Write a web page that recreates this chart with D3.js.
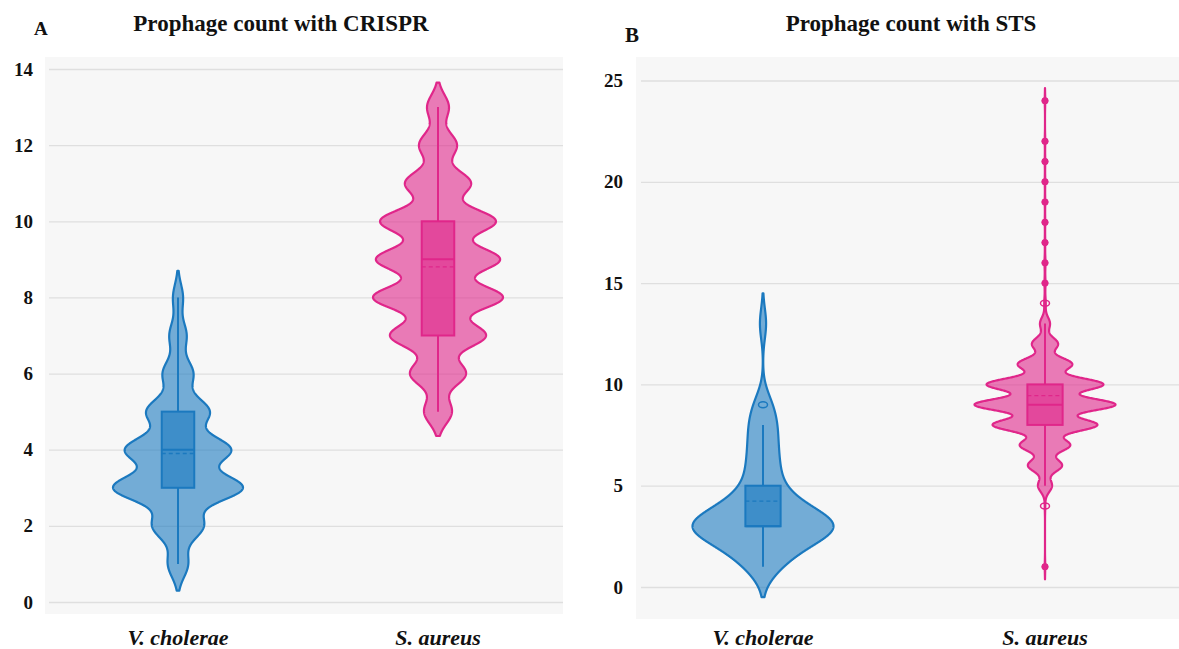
<!DOCTYPE html>
<html>
<head>
<meta charset="utf-8">
<script src="https://cdn.jsdelivr.net/npm/d3@7"></script>
<style>
  html, body { margin: 0; padding: 0; background: #ffffff; }
  svg text { font-family: "Liberation Serif", "Times New Roman", serif; font-weight: bold; fill: #111; }
</style>
</head>
<body>
<svg id="chart" width="1179" height="649"></svg>
<script>
// ---------- data ----------
const categories = ["V. cholerae", "S. aureus"];
const seriesColors = ["#1b79bf", "#e0268a"];

// Panel A: prophage count per genome, genomes carrying CRISPR
const crisprTicks = [0, 2, 4, 6, 8, 10, 12, 14];
const crisprVcValues = [1, 2, 3, 4, 5, 6, 7, 8];
const crisprVcCounts = [20, 50, 128, 104, 62, 30, 17, 10];
const crisprSaValues = [5, 6, 7, 8, 9, 10, 11, 12, 13];
const crisprSaCounts = [14, 28, 48, 65, 62, 58, 33, 19, 11];
// box summaries: lower whisker, Q1, median, Q3, upper whisker, mean
const crisprVcBox = [1, 3, 4, 5, 8, 3.9];
const crisprSaBox = [5, 7, 9, 10, 13, 8.8];
const crisprBandwidths = [0.35, 0.32];

// Panel B: prophage count per genome, genomes carrying STS
const stsTicks = [0, 5, 10, 15, 20, 25];
const stsVcValues = [1, 2, 3, 4, 5, 6, 7, 8, 9, 13];
const stsVcCounts = [10, 22, 50, 22, 10, 9, 8, 8, 6, 3];
const stsSaValues = [1, 4, 5, 6, 7, 8, 9, 10, 11, 12, 13, 14, 15, 16, 17, 18, 19, 20, 21, 22, 24];
const stsSaCounts = [1, 1, 28, 68, 100, 208, 280, 232, 108, 52, 20, 3, 2, 2, 1, 1, 1, 1, 1, 1, 1];
const stsVcBox = [1, 3, 3, 5, 8, 4.24];
const stsSaBox = [5, 8, 9, 10, 13, 9.45];
const stsBandwidths = [0.75, 0.31];
// outliers: mild ones drawn hollow, far ones filled
const stsVcOutliersMild = [9];
const stsVcOutliersFar = [];
const stsSaOutliersMild = [4, 14];
const stsSaOutliersFar = [1, 15, 16, 17, 18, 19, 20, 21, 22, 24];

// ---------- drawing ----------
const svg = d3.select("#chart");

function kde(values, counts, bw, step) {
  const lo = d3.min(values) - 2 * bw, hi = d3.max(values) + 2 * bw;
  const pts = [];
  for (let t = lo; t <= hi + 1e-9; t += step) {
    let s = 0;
    values.forEach((v, i) => { const z = (t - v) / bw; s += counts[i] * Math.exp(-0.5 * z * z); });
    pts.push({ t, d: s });
  }
  return pts;
}

function drawPanel(p) {
  const g = svg.append("g");

  g.append("rect")
    .attr("x", p.bg[0]).attr("y", p.bg[1])
    .attr("width", p.bg[2]).attr("height", p.bg[3])
    .attr("fill", "#f7f7f7");

  const y = d3.scaleLinear().domain([0, p.yMax]).range([p.yBottom, p.yTop]);
  const x = d3.scaleBand().domain(categories).range(p.xRange);
  const band = x.bandwidth();

  // gridlines + tick labels
  const axis = d3.axisLeft(y)
    .tickValues(p.ticks)
    .tickSize(-(p.gridRight - p.gridLeft))
    .tickPadding(p.labelPad);
  const ax = g.append("g").attr("transform", `translate(${p.gridLeft},0)`).call(axis);
  ax.select(".domain").remove();
  ax.selectAll(".tick line").attr("stroke", "#dfdfdf").attr("stroke-width", 1.3);
  ax.selectAll(".tick text")
    .attr("font-size", 19)
    .attr("font-family", "Liberation Serif, Times New Roman, serif")
    .attr("font-weight", "bold")
    .attr("fill", "#111");

  p.series.forEach((s, i) => {
    const cx = x.bandwidth() / 2 + x(categories[i]);
    const col = seriesColors[i];
    const dens = kde(s.values, s.counts, s.bw, 0.01);
    const w = d3.scaleLinear().domain([0, d3.max(dens, d => d.d)]).range([0, band * 0.25]);

    const area = d3.area()
      .y(d => y(d.t))
      .x0(d => cx - w(d.d))
      .x1(d => cx + w(d.d));

    g.append("path")
      .datum(dens)
      .attr("d", area)
      .attr("fill", col).attr("fill-opacity", 0.6)
      .attr("stroke", col).attr("stroke-width", 2.2)
      .attr("stroke-linejoin", "round");

    const [lw, q1, med, q3, uw, mean] = s.box;
    const bh = band * 0.0625;

    // whiskers
    g.append("line").attr("x1", cx).attr("x2", cx).attr("y1", y(q3)).attr("y2", y(uw))
      .attr("stroke", col).attr("stroke-width", 2);
    g.append("line").attr("x1", cx).attr("x2", cx).attr("y1", y(q1)).attr("y2", y(lw))
      .attr("stroke", col).attr("stroke-width", 2);

    // box
    g.append("rect")
      .attr("x", cx - bh).attr("width", 2 * bh)
      .attr("y", y(q3)).attr("height", y(q1) - y(q3))
      .attr("fill", col).attr("fill-opacity", 0.6)
      .attr("stroke", col).attr("stroke-width", 2);

    // median
    g.append("line").attr("x1", cx - bh).attr("x2", cx + bh).attr("y1", y(med)).attr("y2", y(med))
      .attr("stroke", col).attr("stroke-width", 2);
    // mean
    g.append("line").attr("x1", cx - bh).attr("x2", cx + bh).attr("y1", y(mean)).attr("y2", y(mean))
      .attr("stroke", col).attr("stroke-width", 1.3).attr("stroke-dasharray", "4,3");

    // outliers
    g.selectAll(null).data(s.mild || []).enter().append("ellipse")
      .attr("cx", cx).attr("cy", d => y(d)).attr("rx", 4.5).attr("ry", 3)
      .attr("fill", "none").attr("stroke", col).attr("stroke-width", 1.5);
    g.selectAll(null).data(s.far || []).enter().append("circle")
      .attr("cx", cx).attr("cy", d => y(d)).attr("r", 3.2)
      .attr("fill", col).attr("stroke", col).attr("stroke-width", 1);

    // category label
    g.append("text")
      .attr("x", cx).attr("y", 645)
      .attr("text-anchor", "middle")
      .attr("font-size", 22)
      .attr("font-style", "italic")
      .text(categories[i]);
  });

  g.append("text").attr("x", p.letterPos[0]).attr("y", p.letterPos[1])
    .attr("font-size", p.letterSize).text(p.letter);
  g.append("text").attr("x", p.titleX).attr("y", 31)
    .attr("text-anchor", "middle").attr("font-size", 23).text(p.title);
}

drawPanel({
  letter: "A", letterPos: [34, 35], letterSize: 19,
  title: "Prophage count with CRISPR", titleX: 281,
  bg: [45, 57, 518, 557],
  gridLeft: 49, gridRight: 563, labelPad: 16,
  yMax: 14, yBottom: 602, yTop: 69,
  ticks: crisprTicks,
  xRange: [48, 568],
  series: [
    { values: crisprVcValues, counts: crisprVcCounts, bw: crisprBandwidths[0], box: crisprVcBox },
    { values: crisprSaValues, counts: crisprSaCounts, bw: crisprBandwidths[1], box: crisprSaBox }
  ]
});

drawPanel({
  letter: "B", letterPos: [625, 42], letterSize: 21,
  title: "Prophage count with STS", titleX: 911,
  bg: [636, 57, 543, 562],
  gridLeft: 641, gridRight: 1179, labelPad: 18,
  yMax: 25, yBottom: 587, yTop: 80.5,
  ticks: stsTicks,
  xRange: [622, 1186],
  series: [
    { values: stsVcValues, counts: stsVcCounts, bw: stsBandwidths[0], box: stsVcBox,
      mild: stsVcOutliersMild, far: stsVcOutliersFar },
    { values: stsSaValues, counts: stsSaCounts, bw: stsBandwidths[1], box: stsSaBox,
      mild: stsSaOutliersMild, far: stsSaOutliersFar }
  ]
});
</script>
</body>
</html>
